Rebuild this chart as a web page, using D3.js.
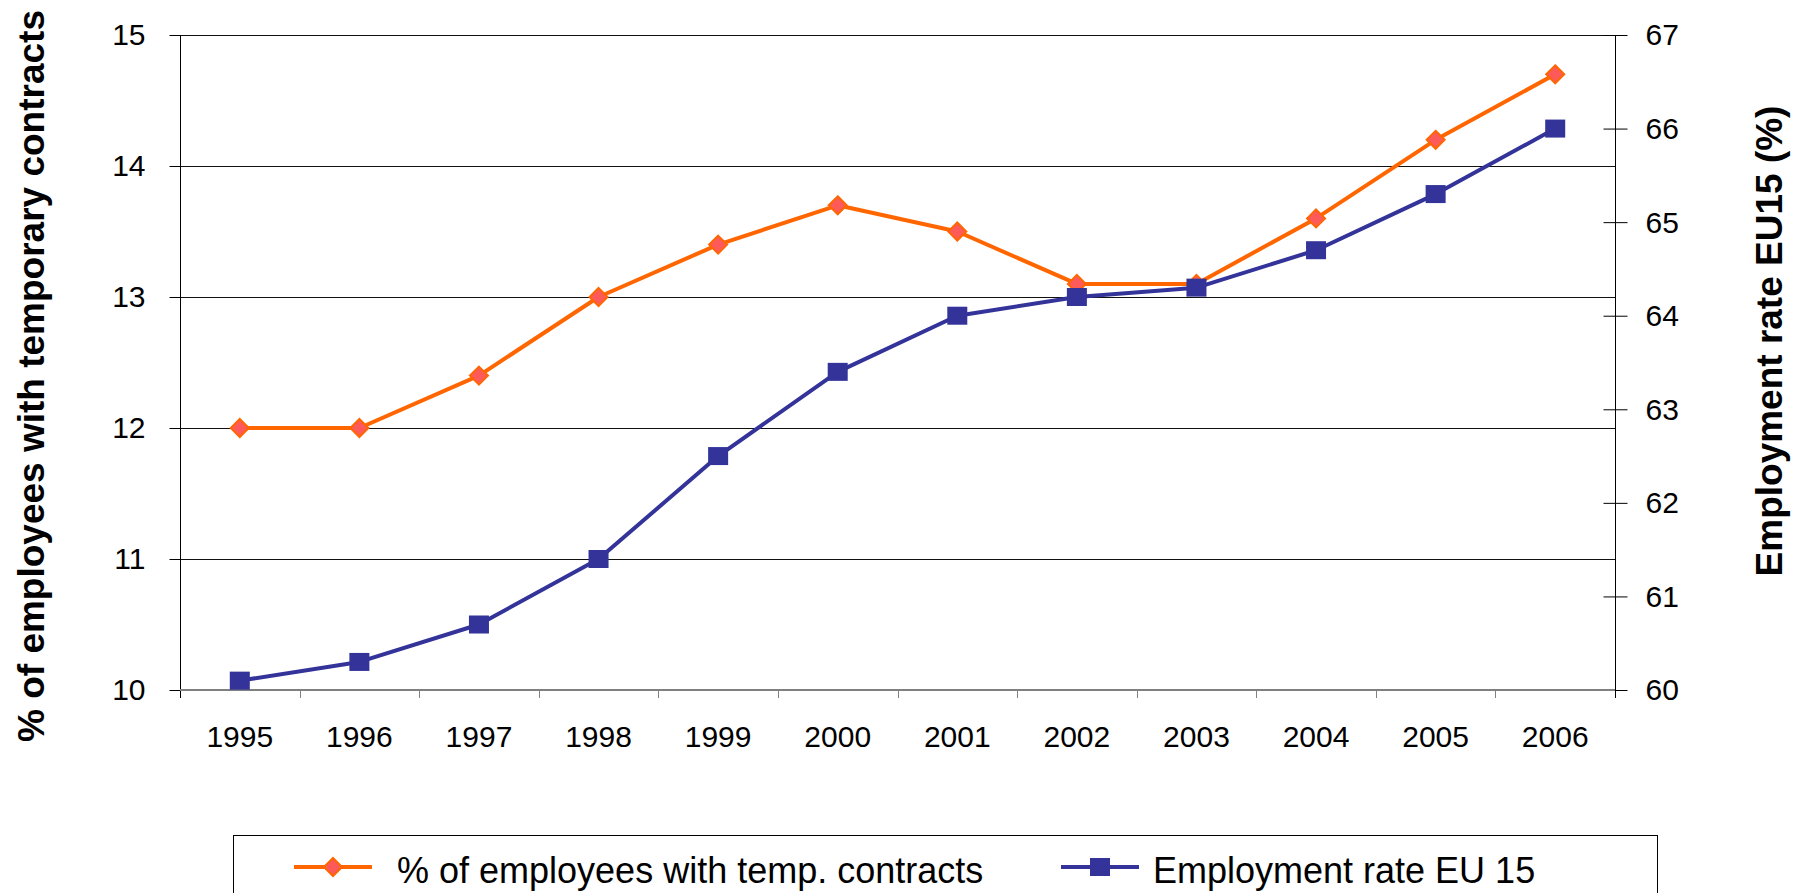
<!DOCTYPE html>
<html>
<head>
<meta charset="utf-8">
<script src="https://cdn.jsdelivr.net/npm/d3@7"></script>
<style>
  html, body { margin: 0; padding: 0; background: #fff; }
  svg { display: block; }
  text { font-family: "Liberation Sans", Arial, sans-serif; fill: #000; }
</style>
</head>
<body>
<svg id="chart" width="1804" height="893"></svg>
<script>
const years = ["1995","1996","1997","1998","1999","2000","2001","2002","2003","2004","2005","2006"];
const tempContracts = [12.0, 12.0, 12.4, 13.0, 13.4, 13.7, 13.5, 13.1, 13.1, 13.6, 14.2, 14.7];
const employmentRate = [60.1, 60.3, 60.7, 61.4, 62.5, 63.4, 64.0, 64.2, 64.3, 64.7, 65.3, 66.0];
const leftTicks = [10, 11, 12, 13, 14, 15];
const rightTicks = [60, 61, 62, 63, 64, 65, 66, 67];
const seriesNames = ["% of employees with temp. contracts", "Employment rate EU 15"];
const leftTitle = "% of employees with temporary contracts";
const rightTitle = "Employment rate EU15 (%)";

const svg = d3.select("#chart");
const L = 180, R = 1615, T = 35, B = 690;
const ORANGE = "#FF6600", PINK = "#FF5A5A", BLUE = "#333399";

const x = d3.scaleBand().domain(years).range([L, R]);
const yL = d3.scaleLinear().domain([10, 15]).range([B, T]);
const yR = d3.scaleLinear().domain([60, 67]).range([B, T]);

// gridlines
svg.append("g").selectAll("line").data(leftTicks.filter(d => d > 10)).join("line")
  .attr("x1", L).attr("x2", R)
  .attr("y1", d => Math.round(yL(d)) + 0.5).attr("y2", d => Math.round(yL(d)) + 0.5)
  .attr("stroke", "#111").attr("stroke-width", 1);

// left axis
const gL = svg.append("g").attr("transform", `translate(${L + 0.5},0)`)
  .call(d3.axisLeft(yL).tickValues(leftTicks).tickSize(11).tickPadding(24).tickFormat(d3.format("d")));
gL.select(".domain").remove();
gL.selectAll(".tick line").attr("stroke", "#000");
gL.selectAll(".tick text").attr("font-size", 30).attr("dy", "0.33em")
  .style("font-family", "'Liberation Sans', Arial, sans-serif");
gL.append("line").attr("x1", 0).attr("x2", 0).attr("y1", T).attr("y2", 698).attr("stroke", "#000");

// right axis
const gR = svg.append("g").attr("transform", `translate(${R + 0.5},0)`)
  .call(d3.axisRight(yR).tickValues(rightTicks).tickSize(12).tickPadding(18).tickFormat(d3.format("d")));
gR.select(".domain").remove();
gR.selectAll(".tick line").attr("x1", -12).attr("x2", 12).attr("stroke", "#000");
gR.selectAll(".tick text").attr("font-size", 30).attr("dy", "0.33em")
  .style("font-family", "'Liberation Sans', Arial, sans-serif");
gR.append("line").attr("x1", 0).attr("x2", 0).attr("y1", T).attr("y2", 698).attr("stroke", "#000");

// bottom axis
const gB = svg.append("g").attr("transform", `translate(0,${B})`)
  .call(d3.axisBottom(x).tickSize(0).tickPadding(0));
gB.select(".domain").remove();
gB.selectAll(".tick text").attr("font-size", 30).attr("dy", 0).attr("y", 57)
  .style("font-family", "'Liberation Sans', Arial, sans-serif");
gB.append("line").attr("x1", L).attr("x2", R).attr("y1", 0).attr("y2", 0)
  .attr("stroke", "#808080").attr("stroke-width", 2);
const bounds = years.map(d => x(d)).concat([R]);
gB.append("g").selectAll("line").data(bounds.slice(1, -1)).join("line")
  .attr("x1", d => Math.round(d) + 0.5).attr("x2", d => Math.round(d) + 0.5)
  .attr("y1", 0).attr("y2", 8).attr("stroke", "#808080").attr("stroke-width", 1);

// axis titles
svg.append("text").attr("transform", `translate(44,376) rotate(-90)`)
  .attr("text-anchor", "middle").attr("font-size", 37).attr("font-weight", "bold").text(leftTitle);
svg.append("text").attr("transform", `translate(1782,341) rotate(-90)`)
  .attr("text-anchor", "middle").attr("font-size", 37).attr("font-weight", "bold").text(rightTitle);

const cx = d => x(d) + x.bandwidth() / 2;
const diamond = "M0,-9L9,0L0,9L-9,0Z";

// orange series
svg.append("path").datum(tempContracts)
  .attr("fill", "none").attr("stroke", ORANGE).attr("stroke-width", 4).attr("stroke-linejoin", "round")
  .attr("d", d3.line().x((d, i) => cx(years[i])).y(d => yL(d)));
svg.append("g").selectAll("path").data(tempContracts).join("path")
  .attr("transform", (d, i) => `translate(${cx(years[i])},${yL(d)})`)
  .attr("d", diamond).attr("fill", PINK).attr("stroke", ORANGE).attr("stroke-width", 2);

// blue series
svg.append("path").datum(employmentRate)
  .attr("fill", "none").attr("stroke", BLUE).attr("stroke-width", 4).attr("stroke-linejoin", "round")
  .attr("d", d3.line().x((d, i) => cx(years[i])).y(d => yR(d)));
svg.append("g").selectAll("rect").data(employmentRate).join("rect")
  .attr("x", (d, i) => cx(years[i]) - 10).attr("y", d => yR(d) - 9)
  .attr("width", 20).attr("height", 18).attr("fill", BLUE);

// legend
svg.append("rect").attr("x", 233.5).attr("y", 835.5).attr("width", 1424).attr("height", 100)
  .attr("fill", "none").attr("stroke", "#000").attr("stroke-width", 1);
const lg1 = svg.append("g");
lg1.append("line").attr("x1", 294).attr("x2", 372).attr("y1", 867).attr("y2", 867)
  .attr("stroke", ORANGE).attr("stroke-width", 4);
lg1.append("path").attr("transform", "translate(333,867)").attr("d", diamond)
  .attr("fill", PINK).attr("stroke", ORANGE).attr("stroke-width", 2);
lg1.append("text").attr("x", 397).attr("y", 883).attr("font-size", 36).text(seriesNames[0]);
const lg2 = svg.append("g");
lg2.append("line").attr("x1", 1061).attr("x2", 1139).attr("y1", 867).attr("y2", 867)
  .attr("stroke", BLUE).attr("stroke-width", 4);
lg2.append("rect").attr("x", 1090).attr("y", 858).attr("width", 20).attr("height", 18).attr("fill", BLUE);
lg2.append("text").attr("x", 1153).attr("y", 883).attr("font-size", 36).text(seriesNames[1]);
</script>
</body>
</html>
